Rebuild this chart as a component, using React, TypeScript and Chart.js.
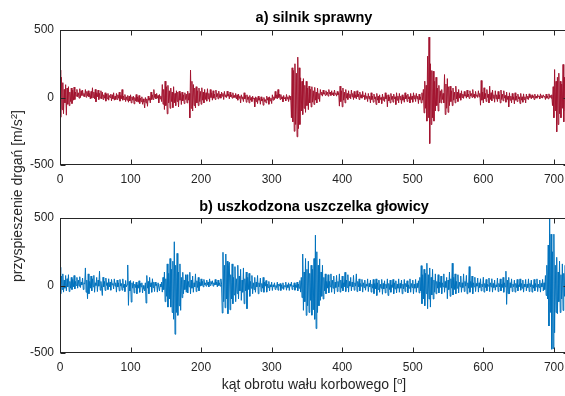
import React, { useEffect, useRef } from "react";
import { Chart, registerables } from "chart.js";

Chart.register(...registerables);

// ---------- data ----------
const ANGLE_STEP = 1; // degrees between samples
const X_MIN = 0;
const X_MAX = 720;
const X_TICKS = [0, 100, 200, 300, 400, 500, 600, 700];
const Y_MIN = -500;
const Y_MAX = 500;
const Y_TICKS = [-500, 0, 500];

const TITLE_A = "a) silnik sprawny";
const TITLE_B = "b) uszkodzona uszczelka głowicy";

// a) healthy engine, acceleration [m/s^2], one value per degree (0..719)
const SIGNAL_A = [
  203, -146, 150, -90, 110, -120, 60, -40, 95, -131, 70, -50, 80, -60, 40, -30, 70, -45, 55, -20,
  77, -15, 40, 10, 60, 5, 35, -5, 65, 0, 50, 15, 55, 10, 30, 5, 59, 2, 45, 12,
  50, 5, 30, -10, 45, -5, 72, 0, 40, -10, 60, -32, 35, 5, 55, -15, 30, -5, 50, -10,
  40, -15, 20, -5, 35, -27, 25, -10, 30, -20, 15, 0, 25, -25, 20, -10, 35, -20, 10, -15,
  30, -15, 20, -5, 40, -27, 15, -10, 59, -20, 10, -15, 22, -30, 5, -20, 15, -35, 10, -25,
  20, -40, 5, -20, 10, -47, 0, -25, 22, -30, 5, -35, 15, -45, -5, -30, 5, -50, -10, -35,
  -77, 0, -40, -10, -65, 10, -20, -5, -40, 40, -15, 20, -15, 59, 0, 25, -10, 30, -5, 15,
  -40, 22, -10, 10, -30, 96, -50, 60, -89, 121, -60, 80, -121, 90, -40, 50, -80, 70, -30, 40,
  -75, 80, -40, 30, -60, 50, -30, 40, -70, 47, -20, 30, -52, 40, -25, 20, -45, 35, -15, 25,
  -40, 47, -20, 30, -151, 203, -80, 120, -100, 96, -60, 70, -77, 80, -40, 50, -60, 70, -30, 45,
  -50, 72, -20, 40, -40, 60, -15, 35, -27, 65, -10, 30, -30, 59, 0, 35, -20, 50, -5, 25,
  -15, 55, 5, 30, -10, 47, 0, 25, -5, 40, 10, 30, -15, 45, 5, 20, 0, 47, 10, 25,
  -10, 40, 5, 20, -5, 35, 0, 15, 0, 30, -10, 20, -20, 25, -5, 10, -40, 20, -10, 5,
  -30, 35, -10, 15, -35, 20, -15, 5, -40, 15, -20, 0, -30, 10, -10, -5, -69, 5, -30, 0,
  -45, 10, -20, -5, -50, 5, -25, -10, -57, 0, -30, -15, -40, 10, -20, 0, -50, 5, -25, -5,
  -45, 20, -20, 5, -15, 45, -5, 20, -10, 59, 0, 25, -15, 22, -10, 5, -32, 15, -10, 0,
  -25, 22, -10, 5, -30, 15, -15, 10, -150, 220, -180, 200, -250, 250, -200, 180, -291, 299, -230, 220,
  -200, 146, -100, 120, -126, 140, -80, 90, -110, 120, -60, 70, -90, 84, -40, 60, -70, 80, -35, 50,
  -52, 75, -20, 40, -40, 70, -10, 30, -30, 59, 20, 40, 10, 55, 25, 35, 15, 50, 20, 40,
  10, 59, 25, 40, 15, 50, 20, 35, 12, 55, 25, 30, 10, 45, 20, 35, -64, 84, -30, 50,
  -69, 70, -20, 40, -40, 59, -5, 30, -15, 50, 0, 25, -10, 55, 5, 30, -15, 45, 0, 20,
  -10, 50, 5, 25, -15, 40, 0, 20, -5, 45, 5, 15, -15, 35, -5, 10, -30, 30, -10, 10,
  -40, 35, -15, 10, -35, 25, -10, 5, -52, 30, -20, 10, -40, 20, -15, 0, -45, 25, -20, 5,
  -30, 35, -10, 15, -69, 20, -25, 5, -40, 30, -15, 10, -35, 25, -10, 5, -52, 35, -20, 10,
  -40, 30, -15, 10, -45, 20, -20, 5, -35, 35, -10, 15, -30, 25, -10, 5, -40, 30, -15, 10,
  -35, 35, -10, 15, -30, 30, -10, 10, -45, 25, -15, 5, -40, 35, -20, 60, -114, 121, -80, 90,
  -175, 306, -150, 447, -341, 250, -200, 200, -150, 195, -175, 120, -100, 150, -60, 70, -100, 90, -40, 50,
  -40, 59, -15, 30, -40, 170, -126, 100, -80, 140, -110, 80, -60, 84, -30, 50, -60, 70, -20, 40,
  -40, 84, -10, 40, -30, 59, -5, 30, -20, 50, 0, 25, -7, 45, 10, 20, -5, 55, 5, 25,
  -7, 50, 10, 30, 0, 59, 5, 25, -5, 45, 10, 20, 0, 50, 5, 30, -57, 126, -20, 40,
  -40, 72, -10, 30, -30, 59, 0, 25, -40, 84, -15, 35, -25, 55, -5, 20, -35, 50, -10, 20,
  -30, 45, -10, 20, -40, 55, -15, 25, -25, 50, -5, 15, -35, 40, -15, 10, -69, 35, -20, 10,
  -40, 30, -15, 5, -47, 35, -20, 10, -30, 25, -10, 5, -45, 30, -20, 5, -35, 27, -15, 5,
  -40, 25, -10, 10, -15, 27, 0, 15, -10, 20, 0, 10, -15, 25, -5, 10, -5, 22, 5, 10,
  -10, 27, 0, 15, -5, 20, 5, 10, -15, 25, -5, 10, -10, 27, 0, 15, -5, 20, -60, 80,
  -150, 207, -100, 120, -254, 150, -200, 180, -120, 120, -150, 100, -80, 245, -180, 150, -100, 120, -60, 80,
];

// b) damaged head gasket, acceleration [m/s^2], one value per degree (0..719)
const SIGNAL_B = [
  135, -61, 70, -30, 86, -49, 40, -20, 74, -40, 50, -10, 80, -45, 30, -20, 60, -30, 45, -10,
  74, -25, 30, 0, 60, -20, 40, -5, 65, -15, 25, 5, 55, -30, 20, 10, 130, -50, 40, -98,
  86, -61, 30, -20, 70, -40, 50, -10, 75, -50, 20, 0, 60, -45, 40, -5, 106, -35, 30, -20,
  -74, 61, -10, 30, -37, 55, 0, 20, -30, 50, -10, 25, -35, 45, 5, 15, -25, 49, -5, 20,
  -49, 40, -10, 20, -40, 45, -5, 15, -35, 49, -15, 10, -45, 37, -10, 5, 152, -147, 30, -40,
  37, -123, 20, -20, 30, -55, 10, -15, 25, -61, 5, -20, 35, -50, 15, -10, 20, -55, 0, -25,
  -40, 20, -130, 74, -20, 30, -61, 60, -10, 20, -50, 50, -15, 25, -45, 25, 0, 10, -49, 20,
  20, -40, 10, -10, 25, -49, 60, -30, 100, -120, 50, -80, 160, -160, 90, -100, 200, -160, 120, -200,
  180, -250, 324, -361, 150, -200, 238, -221, 100, -150, 160, -184, 60, -90, 98, -61, 40, -30, 80, -50,
  80, -55, 30, -10, 98, -61, 40, -20, 70, -50, 20, -10, 86, -45, 35, -15, 60, -40, 25, -5,
  49, 0, 30, -10, 45, 5, 20, -5, 40, 5, 25, -10, 49, 0, 30, 10, 35, -5, 20, 5,
  45, 5, 25, -10, 40, 0, 20, -5, 49, 10, -204, 246, -120, 150, -165, 233, -100, 180, -209, 150,
  172, -180, 80, -100, 160, -135, 60, -70, 140, -120, 50, -60, 150, -100, 70, -40, 120, -110, 40, -50,
  130, -135, 50, -40, 100, -172, 60, -30, 90, -80, 30, -20, 74, -61, 20, -30, 60, -50, 25, -10,
  74, -61, 20, -10, 55, -45, 15, -20, 60, -50, 25, -5, 37, -49, 10, -15, 30, -40, 5, -10,
  25, -37, 5, -10, 20, -30, 0, -15, 25, -35, 10, -5, 15, -37, 5, -20, 20, -30, 0, -10,
  25, -35, 5, -15, 20, -37, 10, -5, 25, -30, 0, -10, 20, -35, 5, -15, 25, -40, 10, -20,
  37, -49, 60, -90, 233, -184, 100, -120, 200, -221, 120, -150, 180, -200, 90, -110, 150, -220, 120, -180,
  200, -250, 373, -319, 250, -200, 150, -150, 197, -110, 100, -80, 150, -100, 60, -40, 86, -61, 30, -20,
  80, -55, 30, -10, 86, -50, 40, -20, 70, -61, 25, -15, 75, -45, 30, -10, 86, -49, 40, -20,
  70, -40, 20, -10, 98, -45, 40, -15, 80, -49, 30, -5, 60, -40, 25, -10, 75, -35, 20, -5,
  86, -45, 30, -10, 49, -40, 15, -5, 45, -49, 20, -15, 40, -35, 10, -5, 49, -45, 15, -10,
  40, -49, 10, -20, 45, -60, 15, -25, 49, -74, 20, -30, 40, -50, 10, -20, 45, -65, 15, -25,
  35, -55, 10, -20, 49, -74, 15, -30, 40, -50, 5, -15, 45, -61, 20, -25, 35, -55, 10, -20,
  49, -50, 15, -20, 40, -61, 10, -25, 45, -45, 15, -10, 35, -55, 5, -20, 49, -50, 15, -15,
  40, -61, 10, -20, 45, -50, 15, -15, 35, -55, 60, -40, 147, -135, 80, -100, 120, -150, 90, -60,
  165, -172, 80, -100, 130, -160, 60, -70, 120, -100, 40, -50, 86, -61, 30, -20, 80, -55, 25, -15,
  70, -61, 20, -10, 86, -50, 30, -15, 60, -98, 40, -30, 100, -80, 50, -20, 165, -70, 60, -30,
  86, -61, 30, -20, 80, -55, 25, -10, 70, -50, 20, -15, 86, -45, 30, -5, 75, -61, 20, -20,
  140, -50, 30, -15, 70, -61, 20, -10, 61, -45, 15, -5, 55, -49, 20, -15, 50, -40, 10, -10,
  61, -49, 15, -15, 45, -40, 10, -5, 55, -45, 20, -10, 50, -49, 15, -15, 40, -35, 5, -10,
  55, -45, 15, -10, 49, -40, 10, -15, 60, -50, 20, -10, 106, -140, 40, -60, 60, -61, 20, -15,
  49, -45, 10, -10, 40, -49, 15, -15, 45, -40, 5, -10, 49, -35, 15, -20, 40, -49, 10, -10,
  45, -40, 10, -15, 49, -45, 15, -10, 40, -49, 5, -20, 45, -40, 15, -10, 49, -45, 10, -15,
  40, -49, 15, -10, 45, -40, 20, -30, 74, -74, 150, -100, 300, -300, 520, -200, 380, -472, 250, -467,
  380, -350, 150, -200, 209, -209, 100, -120, 180, -200, 80, -100, 160, -185, 90, -80, 150, -190, 60, -90,
];

// ---------- styles ----------
const COLOR_A = "#A2142F";
const COLOR_B = "#0072BD";
const AXIS_COLOR = "#262626";
const FONT = "'Liberation Sans', Arial, Helvetica, sans-serif";

const boxPlugin = {
  id: "matlabBox",
  afterDatasetsDraw(chart: any) {
    const { ctx, chartArea: a, scales } = chart;
    ctx.save();
    ctx.strokeStyle = AXIS_COLOR;
    ctx.lineWidth = 1;
    const L = Math.round(a.left) + 0.5;
    const R = Math.round(a.right) + 0.5;
    const T = Math.round(a.top) + 0.5;
    const B = Math.round(a.bottom) - 0.5;
    ctx.strokeRect(L, T, R - L, B - T);
    const tl = 5;
    ctx.beginPath();
    scales.x.ticks.forEach((t: any) => {
      const px = Math.round(scales.x.getPixelForValue(t.value)) + 0.5;
      ctx.moveTo(px, T);
      ctx.lineTo(px, T + tl);
      ctx.moveTo(px, B);
      ctx.lineTo(px, B - tl);
    });
    scales.y.ticks.forEach((t: any) => {
      const py = Math.round(scales.y.getPixelForValue(t.value)) + 0.5;
      ctx.moveTo(L, py);
      ctx.lineTo(L + tl, py);
      ctx.moveTo(R, py);
      ctx.lineTo(R - tl, py);
    });
    ctx.stroke();
    ctx.restore();
  },
};

function SignalChart({ values, color, top }: { values: number[]; color: string; top: number }) {
  const ref = useRef<HTMLCanvasElement>(null);
  useEffect(() => {
    if (!ref.current) return;
    const data = values.map((v, i) => ({ x: X_MIN + i * ANGLE_STEP, y: v }));
    const tickFont = { family: FONT, size: 12 };
    const chart = new Chart(ref.current, {
      type: "line",
      data: {
        datasets: [
          {
            data,
            borderColor: color,
            borderWidth: 1,
            pointRadius: 0,
            tension: 0,
            fill: false,
          },
        ],
      },
      options: {
        responsive: false,
        animation: false,
        devicePixelRatio: 1,
        layout: { padding: { left: 0, right: 12, top: 30, bottom: 0 } },
        plugins: {
          legend: { display: false },
          tooltip: { enabled: false },
          title: { display: false },
        },
        scales: {
          x: {
            type: "linear",
            min: X_MIN,
            max: X_MAX,
            grid: { display: false, drawTicks: false },
            border: { display: false },
            afterBuildTicks: (s: any) => {
              s.ticks = X_TICKS.map((v) => ({ value: v }));
            },
            afterFit: (s: any) => {
              s.height = 35;
            },
            ticks: {
              padding: 7,
              color: AXIS_COLOR,
              font: tickFont,
              maxRotation: 0,
              autoSkip: false,
              callback: (v: any) => String(v),
            },
          },
          y: {
            type: "linear",
            min: Y_MIN,
            max: Y_MAX,
            grid: { display: false, drawTicks: false },
            border: { display: false },
            afterBuildTicks: (s: any) => {
              s.ticks = Y_TICKS.map((v) => ({ value: v }));
            },
            afterFit: (s: any) => {
              s.width = 60;
            },
            ticks: {
              padding: 6,
              color: AXIS_COLOR,
              font: tickFont,
              callback: (v: any) => String(v),
            },
          },
        },
      },
      plugins: [boxPlugin],
    } as any);
    return () => chart.destroy();
  }, [values, color]);
  return (
    <canvas
      ref={ref}
      width={580}
      height={200}
      style={{ position: "absolute", left: 0, top, width: 580, height: 200 }}
    />
  );
}

const titleStyle: React.CSSProperties = {
  position: "absolute",
  left: 60,
  width: 508,
  textAlign: "center",
  fontFamily: FONT,
  fontWeight: "bold",
  fontSize: 14.5,
  lineHeight: "18px",
  color: "#000",
  whiteSpace: "nowrap",
};

const labelStyle: React.CSSProperties = {
  position: "absolute",
  fontFamily: FONT,
  fontSize: 14,
  lineHeight: "18px",
  color: AXIS_COLOR,
  whiteSpace: "nowrap",
};

const supStyle: React.CSSProperties = { fontSize: "70%", verticalAlign: "5px", lineHeight: 0 };

export default function App() {
  return (
    <div
      style={{
        position: "fixed",
        left: 0,
        top: 0,
        width: 565,
        height: 396,
        overflow: "hidden",
        background: "#fff",
      }}
    >
      <SignalChart values={SIGNAL_A} color={COLOR_A} top={0} />
      <SignalChart values={SIGNAL_B} color={COLOR_B} top={188} />
      <div style={{ ...titleStyle, top: 8 }}>{TITLE_A}</div>
      <div style={{ ...titleStyle, top: 197 }}>{TITLE_B}</div>
      <div
        style={{
          ...labelStyle,
          left: 60,
          width: 508,
          textAlign: "center",
          top: 375,
        }}
      >
        kąt obrotu wału korbowego [<sup style={supStyle}>o</sup>]
      </div>
      <div
        style={{
          ...labelStyle,
          left: 17,
          top: 196,
          transform: "translate(-50%, -50%) rotate(-90deg)",
        }}
      >
        przyspieszenie drgań [m/s<sup style={supStyle}>2</sup>]
      </div>
    </div>
  );
}
